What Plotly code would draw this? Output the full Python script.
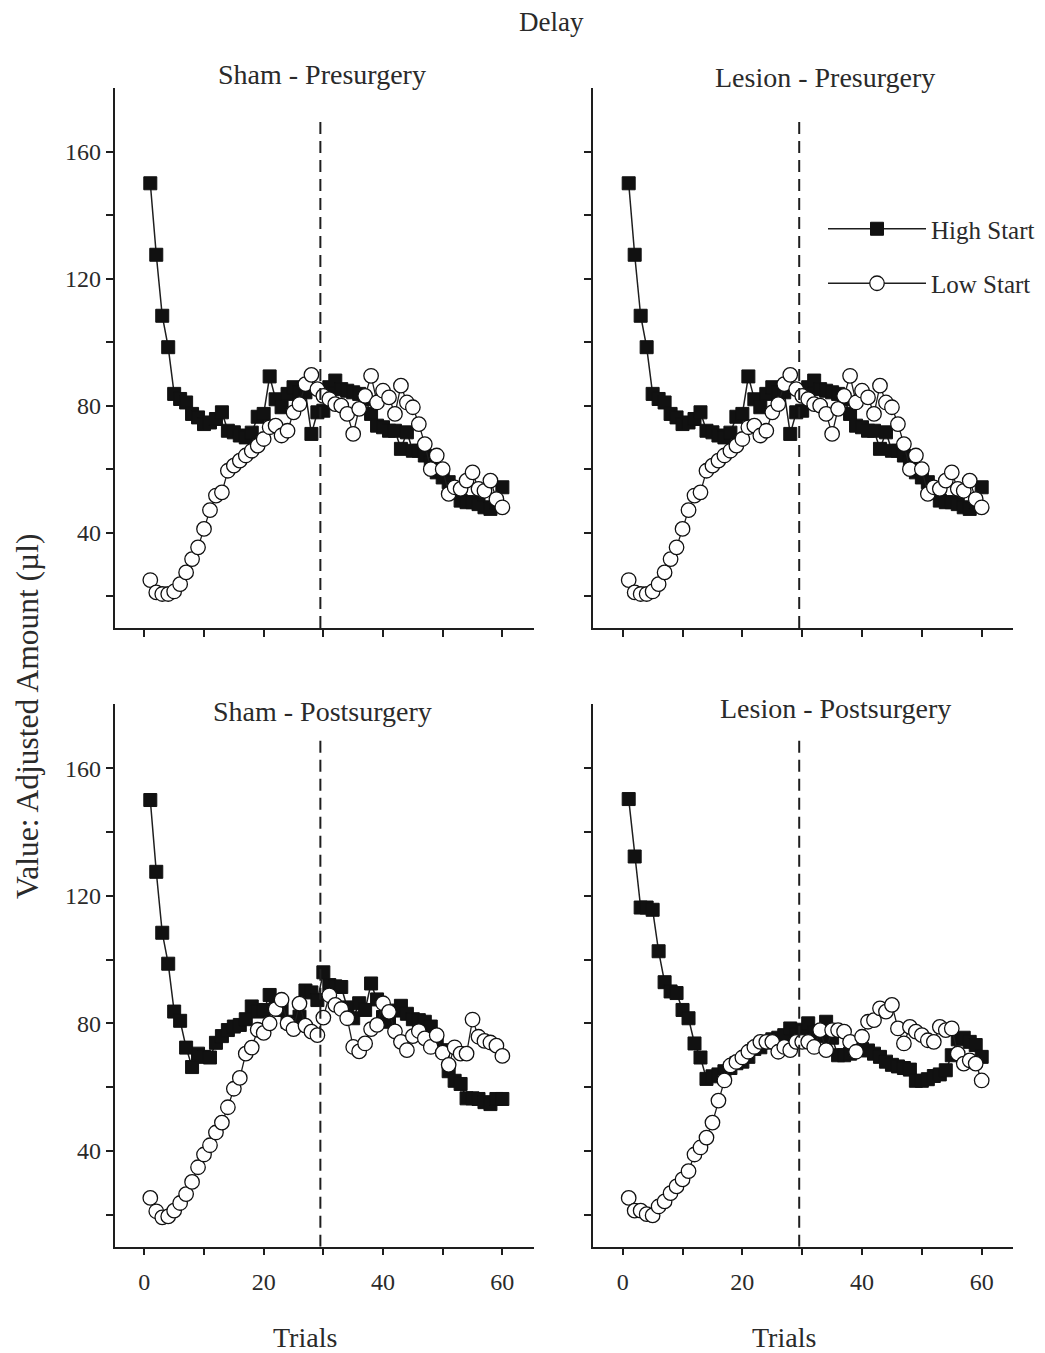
import plotly.graph_objects as go

# ---------------- data ----------------
trials = list(range(1, 61))
boundary_trial = 29.5

pre_high = [150, 127.5, 108.3, 98.4, 83.7, 82.1, 81, 77.4, 76.3, 74.2,
            74.7, 75.8, 77.9, 72.1, 71.6, 70.6, 70, 71.5, 76.5, 77.4,
            89.2, 82, 79.5, 83.7, 85.8, 84.2, 84.2, 71.1, 77.9, 78.4,
            85.8, 87.9, 85.2, 84.7, 84.2, 83.7, 82, 77.4, 73.7, 73.2,
            72.1, 72.1, 66.4, 71.6, 65.8, 65.8, 64.3, 62.2, 59, 57.4,
            55.9, 52.7, 50.1, 49.6, 49.6, 49, 48, 47.5, 49.6, 54.3]
pre_low = [25.1, 21.2, 20.7, 20.7, 21.5, 23.8, 27.5, 31.7, 35.4, 41.2,
           47.1, 51.7, 52.7, 59.5, 61.1, 62.7, 64.3, 65.8, 67.4, 69.5,
           73.2, 73.7, 70.6, 72.1, 77.9, 80.5, 86.8, 89.7, 85.2, 83.1,
           82.1, 80.5, 80, 77.4, 71.1, 79, 83.1, 89.4, 81, 84.7,
           82.6, 77.4, 86.3, 81, 79.5, 74.2, 67.9, 60, 64.3, 60,
           52.2, 54.3, 53.8, 56.4, 59, 53.8, 53.2, 56.4, 50.6, 48]
sham_post_high = [150, 127.5, 108.4, 98.7, 83.7, 80.8, 72.4, 66.3, 70.5, 69.5,
                  69.3, 73.9, 76, 77.9, 79, 79.5, 81.3, 85.3, 83.7, 84.2,
                  88.9, 84.7, 84.2, 80.5, 79.5, 82.1, 90.3, 89.7, 87.3, 96,
                  92, 91.6, 91.4, 85, 81.6, 86.3, 84.2, 92.5, 87.5, 82,
                  80.5, 84, 85.5, 83, 81.3, 81, 80.5, 79, 75, 71.6,
                  65, 62, 61, 56.5, 56.5, 56.3, 55.3, 54.7, 56.3, 56.3]
sham_post_low = [25.3, 21.1, 19.2, 19.5, 21.3, 23.7, 26.5, 30.3, 34.9, 38.9,
                 41.8, 45.8, 48.9, 53.7, 59.5, 62.9, 70.5, 72.4, 78, 77,
                 80, 84.5, 87.4, 80, 78.2, 86.2, 79.3, 77.4, 76.3, 81.8,
                 88.8, 85.8, 84.5, 81.6, 72.6, 71.2, 73.7, 78.2, 79.5, 86.3,
                 83.6, 77.5, 74.2, 71.6, 76, 77.6, 75.3, 72.6, 76.3, 70.8,
                 67, 72.5, 70.5, 70.5, 81.2, 75.8, 74.5, 74, 73, 69.8]
lesion_post_high = [150.3, 132.3, 116.3, 116.3, 115.6, 102.6, 92.9, 90, 89.5, 84.2,
                    81.6, 73.7, 69.3, 62.6, 63.4, 64, 65, 66, 67.5, 68,
                    69.5, 72, 72.5, 74, 75, 75.5, 76.3, 78.4, 76.5, 78,
                    80, 77, 76, 80.5, 75.5, 70, 70, 70.5, 72, 72,
                    71.5, 70.5, 69.5, 68, 67, 66.5, 66, 65.5, 62, 62,
                    62.5, 63.5, 64, 65.3, 70, 75, 75.5, 74.2, 73.2, 69.5]
lesion_post_low = [25.3, 21.3, 21.3, 20.2, 19.8, 22.6, 24.2, 26.8, 28.9, 31.1,
                   33.7, 38.9, 41.1, 44.2, 48.9, 55.8, 62.1, 66.8, 67.9, 69.3,
                   71.1, 72.6, 74.2, 74.2, 74.2, 71.1, 72.6, 71.6, 74.2, 74.2,
                   74.2, 72.6, 77.9, 71.6, 77.9, 77.9, 77.4, 74.2, 71.1, 75.8,
                   80.5, 81, 84.7, 83.7, 85.8, 78.4, 73.7, 78.9, 77.4, 76.3,
                   74.7, 74.2, 78.9, 77.9, 78.4, 70.5, 67.4, 68.4, 67.4, 62.1]

panel_titles = ["Sham - Presurgery", "Lesion - Presurgery",
                "Sham - Postsurgery", "Lesion - Postsurgery"]
series_names = ["High Start", "Low Start"]
x_tick_vals = [0, 10, 20, 30, 40, 50, 60]
x_tick_text = ["0", "", "20", "", "40", "", "60"]
y_tick_vals = [20, 40, 60, 80, 100, 120, 140, 160]
y_tick_text = ["", "40", "", "80", "", "120", "", "160"]

panels = [
    (pre_high, pre_low),
    (pre_high, pre_low),
    (sham_post_high, sham_post_low),
    (lesion_post_high, lesion_post_low),
]

# ---------------- layout geometry ----------------
W, H = 1045, 1353
FONT = "Liberation Serif"
INK = "#1e1e1e"
TXT = "#2a2a2a"

def px(xp):
    return xp / W

def py(yp):
    return 1 - yp / H

x_domains = [[px(114.5), px(534)], [px(592.8), px(1013.4)]]
y_domains = [[py(628), py(88)], [py(1246.7), py(704.3)]]

fig = go.Figure()

for i, (hi, lo) in enumerate(panels):
    row, col = divmod(i, 2)
    n = i + 1
    xa = "x" if n == 1 else f"x{n}"
    ya = "y" if n == 1 else f"y{n}"
    fig.add_trace(go.Scatter(
        x=trials, y=hi, mode="lines+markers", name=series_names[0],
        legendgroup="hi", showlegend=(i == 1),
        line=dict(color=INK, width=1.5),
        marker=dict(symbol="square", size=13, color="#111111",
                    line=dict(color="#111111", width=1)),
        xaxis=xa, yaxis=ya))
    fig.add_trace(go.Scatter(
        x=trials, y=lo, mode="lines+markers", name=series_names[1],
        legendgroup="lo", showlegend=(i == 1),
        line=dict(color=INK, width=1.3),
        marker=dict(symbol="circle", size=14.5, color="white",
                    line=dict(color="#111111", width=1.3)),
        xaxis=xa, yaxis=ya))

    axis_common = dict(showline=True, linecolor=INK, linewidth=1.5,
                       ticks="outside", ticklen=7, tickwidth=1.5, tickcolor=INK,
                       showgrid=False, zeroline=False,
                       tickfont=dict(family=FONT, size=24, color=TXT))
    xkey = "xaxis" if n == 1 else f"xaxis{n}"
    ykey = "yaxis" if n == 1 else f"yaxis{n}"
    fig.update_layout({
        xkey: dict(axis_common, domain=x_domains[col], anchor=ya,
                   range=[-5, 65.3], tickmode="array", tickvals=x_tick_vals,
                   ticktext=x_tick_text if row == 1 else [""] * len(x_tick_vals),
                   ticklabelstandoff=6),
        ykey: dict(axis_common, domain=y_domains[row], anchor=xa,
                   range=[10, 180], tickmode="array", tickvals=y_tick_vals,
                   ticktext=y_tick_text if col == 0 else [""] * len(y_tick_vals)),
    })
    fig.add_shape(type="line", xref=xa, yref=ya,
                  x0=boundary_trial, x1=boundary_trial, y0=10, y1=170,
                  line=dict(color=INK, width=2, dash="12px,7px"))

# ---------------- text ----------------
title_pos = [(322, 75), (825, 78), (322, 711), (835, 708)]
annotations = [dict(text="Delay", x=px(551), y=py(22), xref="paper", yref="paper",
                    showarrow=False, xanchor="center", yanchor="middle",
                    font=dict(family=FONT, size=27, color=TXT))]
for t, (xp, yp) in zip(panel_titles, title_pos):
    annotations.append(dict(text=t, x=px(xp), y=py(yp), xref="paper", yref="paper",
                            showarrow=False, xanchor="center", yanchor="middle",
                            font=dict(family=FONT, size=28, color=TXT)))
for xp in (305, 784):
    annotations.append(dict(text="Trials", x=px(xp), y=py(1337), xref="paper", yref="paper",
                            showarrow=False, xanchor="center", yanchor="middle",
                            font=dict(family=FONT, size=28, color=TXT)))
annotations.append(dict(text="Value: Adjusted Amount (µl)", x=px(27), y=py(716),
                        xref="paper", yref="paper", textangle=-90,
                        showarrow=False, xanchor="center", yanchor="middle",
                        font=dict(family=FONT, size=31.5, color=TXT)))

fig.update_layout(
    width=W, height=H,
    margin=dict(l=0, r=0, t=0, b=0),
    paper_bgcolor="white", plot_bgcolor="white",
    annotations=annotations,
    showlegend=True,
    legend=dict(x=px(823), y=py(206), xanchor="left", yanchor="top",
                bgcolor="rgba(0,0,0,0)", itemwidth=98, tracegroupgap=19,
                traceorder="grouped",
                font=dict(family=FONT, size=25, color=TXT)),
)

fig.write_html("out.html")
